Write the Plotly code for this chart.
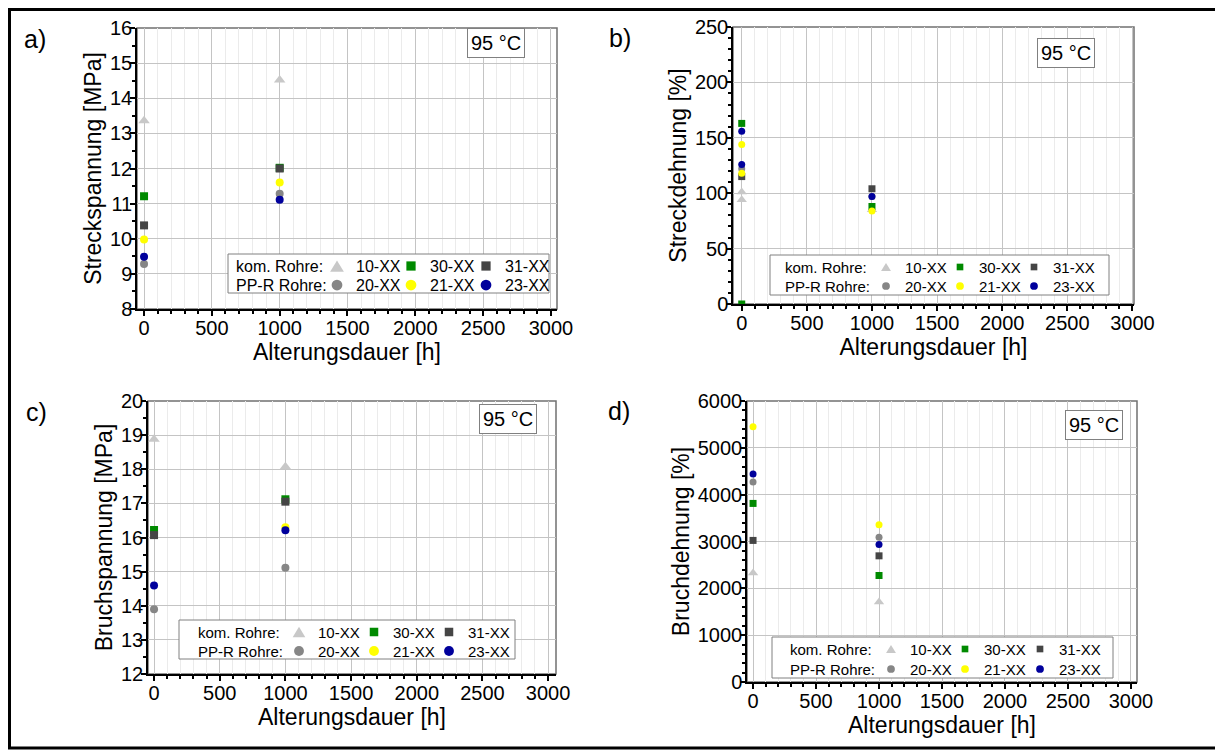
import plotly.graph_objects as go

# the page body keeps an 8px margin, so the figure starts 8px into the window
OFF = 8
W, H = 1223, 751

# series order / style
series = ["10-XX", "30-XX", "31-XX", "20-XX", "21-XX", "23-XX"]
colors = {"10-XX": "#c8c8c8", "30-XX": "#008a00", "31-XX": "#454545",
          "20-XX": "#868686", "21-XX": "#ffff00", "23-XX": "#00009c"}
symbols = {"10-XX": "triangle-up", "30-XX": "square", "31-XX": "square",
           "20-XX": "circle", "21-XX": "circle", "23-XX": "circle"}

# a) Streckspannung [MPa]
a_x = {"10-XX": [0, 1000], "30-XX": [0, 1000], "31-XX": [0, 1000],
       "20-XX": [0, 1000], "21-XX": [0, 1000], "23-XX": [0, 1000]}
a_y = {"10-XX": [13.36, 14.52], "30-XX": [11.21, 12.02], "31-XX": [10.38, 12.0],
       "20-XX": [9.28, 11.28], "21-XX": [9.98, 11.6], "23-XX": [9.49, 11.11]}

# b) Streckdehnung [%]
b_x = {"10-XX": [0, 0, 1000], "30-XX": [0, 0, 1000], "31-XX": [0, 1000],
       "20-XX": [0, 1000], "21-XX": [0, 0, 1000], "23-XX": [0, 0, 1000]}
b_y = {"10-XX": [101, 94, 85], "30-XX": [163, 0, 88], "31-XX": [115, 104],
       "20-XX": [122, 97], "21-XX": [144, 118, 84], "23-XX": [156, 126, 97]}

# c) Bruchspannung [MPa]
c_x = {"10-XX": [0, 1000], "30-XX": [0, 1000], "31-XX": [0, 1000],
       "20-XX": [0, 1000], "21-XX": [1000], "23-XX": [0, 1000]}
c_y = {"10-XX": [18.88, 18.07], "30-XX": [16.22, 17.12], "31-XX": [16.07, 17.05],
       "20-XX": [13.9, 15.11], "21-XX": [16.3], "23-XX": [14.59, 16.21]}

# d) Bruchdehnung [%]
d_x = {k: [0, 1000] for k in series}
d_y = {"10-XX": [2330, 1710], "30-XX": [3813, 2274], "31-XX": [3023, 2694],
       "20-XX": [4270, 3093], "21-XX": [5452, 3357], "23-XX": [4440, 2937]}

panels = [
    # name, xdata, ydata, ytitle, yrange, dtick, minor, xdomain px, ydomain px, xrange, msize
    ("a", a_x, a_y, "Streckspannung [MPa]", [8, 16], 1, 0.5, (137, 557), (28, 309), [-52, 3045], 8),
    ("b", b_x, b_y, "Streckdehnung [%]", [0, 250], 50, 10, (733, 1134), (27, 304), [-67, 3012], 7),
    ("c", c_x, c_y, "Bruchspannung [MPa]", [12, 20], 1, 0.5, (148, 556), (401, 674), [-46, 3060], 8),
    ("d", d_x, d_y, "Bruchdehnung [%]", [0, 6000], 1000, 200, (747, 1137), (401, 682), [-48, 3048], 7),
]

FONT = "Arial, Liberation Sans, sans-serif"


def px(x, y):
    return (x - OFF) / W, 1 - (y - OFF) / H


fig = go.Figure()
layout = dict(width=W, height=H, margin=dict(l=0, r=0, t=0, b=0, autoexpand=False),
              plot_bgcolor="white", paper_bgcolor="white", showlegend=False,
              font=dict(family=FONT, color="black"))
shapes = []
annotations = []

for i, (name, xs, ys, ytitle, yr, dt, mn, xd, yd, xr, ms) in enumerate(panels):
    n = "" if i == 0 else str(i + 1)
    for s in series:
        fig.add_trace(go.Scatter(
            x=xs[s], y=ys[s], mode="markers", name=s,
            xaxis="x" + n, yaxis="y" + n,
            marker=dict(symbol=symbols[s], color=colors[s],
                        size=ms + 2 if s == "10-XX" else ms, line=dict(width=0))))
    dx0, dy1 = px(xd[0], yd[0])
    dx1, dy0 = px(xd[1], yd[1])
    layout["xaxis" + n] = dict(
        domain=[dx0, dx1], anchor="y" + n, range=xr, dtick=500, tick0=0, automargin=False,
        showline=True, linecolor="black", linewidth=1.5,
        ticks="outside", ticklen=5, tickwidth=1.5, tickcolor="black",
        tickfont=dict(size=20), ticklabelstandoff=-5,
        showgrid=True, gridcolor="#c4c4c4", gridwidth=1, zeroline=False,
        minor=dict(dtick=100, ticks="outside", ticklen=3, tickcolor="black",
                   showgrid=True, gridcolor="#ebebeb", gridwidth=1),
        title=dict(text="Alterungsdauer [h]", font=dict(size=23), standoff=0))
    layout["yaxis" + n] = dict(
        domain=[dy0, dy1], anchor="x" + n, range=yr, dtick=dt, automargin=False,
        showline=True, linecolor="black", linewidth=1.5,
        ticks="outside", ticklen=5, tickwidth=1.5, tickcolor="black",
        tickfont=dict(size=20), ticklabelstandoff=-6,
        showgrid=True, gridcolor="#c4c4c4", gridwidth=1, zeroline=False,
        minor=dict(dtick=mn, ticks="outside", ticklen=3, tickcolor="black", showgrid=False),
        title=dict(text=ytitle, font=dict(size=23), standoff=2))
    # gray top/right frame
    shapes.append(dict(type="rect", xref="paper", yref="paper",
                       x0=dx0, x1=dx1, y0=dy0, y1=dy1, line=dict(color="#707070", width=1.5),
                       layer="below"))

# panel letters
for lab, (x, y) in zip(["a)", "b)", "c)", "d)"], [(35, 39), (620, 38), (36, 412), (619, 411)]):
    xp, yp = px(x, y)
    annotations.append(dict(text=lab, x=xp, y=yp, xref="paper", yref="paper",
                            xanchor="center", yanchor="middle",
                            showarrow=False, font=dict(size=25)))

# temperature boxes
for (x, y) in [(496, 43), (1066, 53), (508, 419), (1094, 425)]:
    xp, yp = px(x, y)
    annotations.append(dict(text="95 °C", x=xp, y=yp, xref="paper", yref="paper",
                            xanchor="center", yanchor="middle",
                            showarrow=False, font=dict(size=20), bgcolor="white",
                            bordercolor="#808080", borderwidth=1, borderpad=3))

# legend boxes (per panel): box, row-label x, symbol columns, rows, font size, symbol scale
legends = [
    ((228, 254, 549, 293), 234, (337, 411, 486), (266, 285), 16, 1.25),
    ((770, 255, 1109, 295), 783, (886, 960, 1034), (267, 286), 15, 0.9),
    ((179, 620, 515, 659), 196, (299, 374, 449), (632, 651), 15, 1.15),
    ((772, 637, 1113, 678), 788, (891, 965, 1040), (649, 669), 15, 0.9),
]
rows = [("kom. Rohre:", ["10-XX", "30-XX", "31-XX"]),
        ("PP-R Rohre:", ["20-XX", "21-XX", "23-XX"])]

for (bx0, by0, bx1, by1), lx, cols, rys, fs, sc in legends:
    x0, y0 = px(bx0, by0)
    x1, y1 = px(bx1, by1)
    shapes.append(dict(type="rect", xref="paper", yref="paper", x0=x0, y0=y1, x1=x1, y1=y0,
                       fillcolor="white", line=dict(color="#808080", width=1), layer="above"))
    for (rlab, names), ry in zip(rows, rys):
        xp, yp = px(lx, ry)
        annotations.append(dict(text=rlab, x=xp, y=yp, xref="paper", yref="paper",
                                xanchor="left", yanchor="middle",
                                showarrow=False, font=dict(size=fs)))
        for cx, s in zip(cols, names):
            sym = symbols[s]
            if sym == "triangle-up":
                w, h = 11 * sc, 9 * sc
                ax, ay = px(cx - w / 2, ry + h / 2)
                bx, by = px(cx + w / 2, ry + h / 2)
                tx, ty = px(cx, ry - h / 2)
                shapes.append(dict(type="path", xref="paper", yref="paper",
                                   path=f"M {ax} {ay} L {bx} {by} L {tx} {ty} Z",
                                   fillcolor=colors[s], line=dict(width=0), layer="above"))
            else:
                r = (3.7 if sym == "square" else 4.3) * sc
                qx0, qy0 = px(cx - r, ry + r)
                qx1, qy1 = px(cx + r, ry - r)
                shapes.append(dict(type="rect" if sym == "square" else "circle",
                                   xref="paper", yref="paper",
                                   x0=qx0, y0=qy0, x1=qx1, y1=qy1,
                                   fillcolor=colors[s], line=dict(width=0), layer="above"))
            xp, yp = px(cx + 17, ry)
            annotations.append(dict(text=s, x=xp, y=yp, xref="paper", yref="paper",
                                    xanchor="left", yanchor="middle",
                                    showarrow=False, font=dict(size=fs)))

# outer frame (top/left edges kept just inside the figure)
fx0, fy0 = px(9.5, 9.5)
fx1, fy1 = px(1218, 748)
shapes.append(dict(type="rect", xref="paper", yref="paper", x0=fx0, y0=fy1, x1=fx1, y1=fy0,
                   line=dict(color="black", width=3), layer="above"))

layout["shapes"] = shapes
layout["annotations"] = annotations
fig.update_layout(**layout)

fig.write_html("out.html")
